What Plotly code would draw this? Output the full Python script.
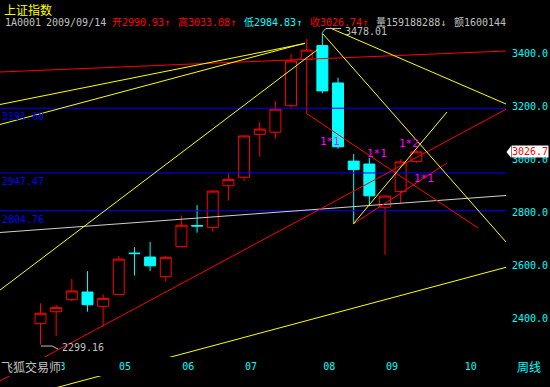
import plotly.graph_objects as go

# ---------------- data ----------------
weeks = list(range(25))
opens = [2378.6, 2423.7, 2469, 2498, 2444, 2489, 2645, 2630, 2556, 2669, 2749, 2742, 2899,
         2931, 3093, 3101, 3201, 3376, 3428, 3287, 2992, 2981, 2818, 2877, 2990.93]
highs = [2455, 2449, 2547, 2577, 2489, 2634, 2667, 2687, 2634, 2787, 2826, 2883, 2946,
         3088, 3140, 3220, 3396, 3453, 3478.01, 3307, 3019, 3004, 2862, 2999, 3033.08]
lows = [2299.16, 2332, 2464, 2424, 2367, 2487, 2560, 2578, 2537, 2667, 2722, 2726, 2843,
        2917, 3009, 3077, 3194, 3174, 3248, 3039, 2755, 2823, 2639, 2833, 2984.83]
closes = [2417.8, 2440, 2502, 2450, 2474, 2622, 2643, 2597, 2629, 2750, 2747, 2879, 2923,
          3087, 3113, 3188, 3370, 3411, 3257, 3046, 2960, 2861, 2860, 2989, 3026.74]

month_tick_pos = [1.22, 5.40, 9.43, 13.45, 18.44, 22.45, 27.48]
month_tick_text = ["03", "05", "06", "07", "08", "09", "10"]

price_ticks = [2400, 2600, 2800, 3000, 3200, 3400]

blue_levels = [3191.60, 2947.47, 2804.76]

# drawn trend lines: [x0, y0, x1, y1] in (week index, price)
red_trend = [[-2.586, 3328.3, 29.726, 3407.5],
             [-2.586, 2162.3, 29.726, 3187.5],
             [19.97, 2754.7, 25.96, 2984.9],
             [16.97, 3172.4, 27.94, 2739.6]]
yellow_trend = [[-2.586, 2505.3, 17.72, 3414.0],
                [-2.586, 3205.7, 16.89, 3435.8],
                [-2.586, 3130.2, 16.89, 3437.4],
                [18.49, 3494.3, 29.726, 3207.5],
                [18.04, 3471.7, 29.726, 2686.8],
                [19.97, 2754.7, 25.96, 3177.4],
                [-0.03, 2120.7, 29.726, 2591.3]]
grey_trend = [[-2.586, 2722.6, 29.726, 2862.3]]

gann_labels = ["1*1", "1*1", "1*2", "1*1"]
gann_x = [18.49, 21.49, 23.53, 24.52]
gann_y = [3066, 3019, 3057, 2928]

# ---------------- layout constants ----------------
W, H = 550, 387
PLOT_R = 506
X_RANGE = [-2.586, 29.726]
Y_RANGE = [2139.6, 3600.0]


def py2p(py):
    return Y_RANGE[1] - py * (Y_RANGE[1] - Y_RANGE[0]) / H


def px(x):
    return x / PLOT_R


def py(y):
    return 1 - y / H


RED = "#ff0000"
CYAN = "#00ffff"
YEL = "#ffff00"
GREY = "#c0c0c0"
BLUE = "#0000ff"
MAG = "#ff00ff"
MONO = "DejaVu Sans Mono, Noto Sans CJK SC"
CJK = "Noto Sans CJK SC"

fig = go.Figure()

# blue horizontal levels
for lv in blue_levels:
    fig.add_trace(go.Scatter(x=X_RANGE, y=[lv, lv], mode="lines",
                             line=dict(color=BLUE, width=1), hoverinfo="skip"))

for seg in grey_trend:
    fig.add_trace(go.Scatter(x=[seg[0], seg[2]], y=[seg[1], seg[3]], mode="lines",
                             line=dict(color="#d0d0d0", width=1), hoverinfo="skip"))
for seg in red_trend:
    fig.add_trace(go.Scatter(x=[seg[0], seg[2]], y=[seg[1], seg[3]], mode="lines",
                             line=dict(color=RED, width=1), hoverinfo="skip"))
for seg in yellow_trend:
    fig.add_trace(go.Scatter(x=[seg[0], seg[2]], y=[seg[1], seg[3]], mode="lines",
                             line=dict(color=YEL, width=1), hoverinfo="skip"))

# black band behind the date labels
b0, b1 = py2p(357), py2p(376)
fig.add_trace(go.Scatter(x=[X_RANGE[0], X_RANGE[1], X_RANGE[1], X_RANGE[0], X_RANGE[0]],
                         y=[b0, b0, b1, b1, b0], mode="lines", fill="toself",
                         fillcolor="black", line=dict(width=0, color="black"),
                         hoverinfo="skip"))

# candles
fig.add_trace(go.Candlestick(
    x=weeks, open=opens, high=highs, low=lows, close=closes,
    increasing=dict(line=dict(color=RED, width=1), fillcolor="rgba(0,0,0,0)"),
    decreasing=dict(line=dict(color=CYAN, width=1), fillcolor=CYAN),
    hoverinfo="skip"))

# connectors for extreme labels
hi_i = highs.index(max(highs))
lo_i = lows.index(min(lows))
fig.add_trace(go.Scatter(x=[hi_i, hi_i + 0.22, hi_i + 1.19],
                         y=[max(highs), py2p(28.5), py2p(28.5)], mode="lines",
                         line=dict(color=GREY, width=1), hoverinfo="skip"))
fig.add_trace(go.Scatter(x=[lo_i + 0.03, lo_i + 0.73, lo_i + 1.12],
                         y=[min(lows) - 5, min(lows) - 5, min(lows) - 16], mode="lines",
                         line=dict(color=GREY, width=1), hoverinfo="skip"))

ann = []
# title lines
ann.append(dict(x=px(2.5), y=py(0), xref="paper", yref="paper", text="上证指数",
                showarrow=False, xanchor="left", yanchor="top", borderpad=0,
                font=dict(family=CJK, size=12, color=YEL)))
segs = [(3.5, "1A0001", GREY), (44.9, "2009/09/14", GREY),
        (110.5, "开2990.93↑", RED), (177.1, "高3033.08↑", RED),
        (243.0, "低2984.83↑", CYAN), (308.7, "收3026.74↑", RED),
        (374.6, "量159188288↓", GREY), (452.5, "额1600144", GREY)]
for xx, t, c in segs:
    ann.append(dict(x=px(xx), y=py(22.5), xref="paper", yref="paper", text=t,
                    showarrow=False, xanchor="left", yanchor="middle", borderpad=0,
                    font=dict(family=MONO, size=10, color=c)))

# blue level labels
for lv in blue_levels:
    ann.append(dict(x=0, y=lv, xref="paper", yref="y", text="%.2f" % lv,
                    showarrow=False, xanchor="left", yanchor="top", yshift=-1,
                    font=dict(family=MONO, size=10, color=BLUE)))

# extreme labels
ann.append(dict(x=hi_i + 1.3, y=max(highs), xref="x", yref="y", text="%.2f" % max(highs),
                showarrow=False, xanchor="left", yanchor="middle", yshift=1,
                font=dict(family=MONO, size=10, color=GREY)))
ann.append(dict(x=lo_i + 1.22, y=min(lows), xref="x", yref="y", text="%.2f" % min(lows),
                showarrow=False, xanchor="left", yanchor="middle", yshift=-3,
                font=dict(family=MONO, size=10, color=GREY)))

# gann labels
for t, xx, yy in zip(gann_labels, gann_x, gann_y):
    ann.append(dict(x=xx, y=yy, xref="x", yref="y", text=t, showarrow=False,
                    xanchor="center", yanchor="middle",
                    font=dict(family=MONO, size=11, color=MAG)))

# bottom texts
ann.append(dict(x=0, y=py(366.5), xref="paper", yref="paper", text="飞狐交易师",
                showarrow=False, xanchor="left", yanchor="middle", bgcolor="black",
                borderpad=0, font=dict(family=CJK, size=12, color=GREY)))
ann.append(dict(x=px(515), y=py(366.5), xref="paper", yref="paper", text="周线",
                showarrow=False, xanchor="left", yanchor="middle",
                font=dict(family=CJK, size=12, color=CYAN)))

# last price marker
ann.append(dict(x=px(510.5), y=closes[-1], xref="paper", yref="y",
                text="%.1f" % closes[-1], showarrow=False, xanchor="left",
                yanchor="middle", bgcolor="white", borderpad=0,
                font=dict(family=MONO, size=10, color=RED)))

shapes = [dict(type="path", xref="paper", yref="y",
               path="M %f %f L %f %f L %f %f Z" % (px(506.5), closes[-1], px(511), closes[-1] + 22,
                                                   px(511), closes[-1] - 22),
               fillcolor="white", line=dict(width=0), layer="above")]

fig.update_layout(
    width=W, height=H, margin=dict(l=0, r=W - PLOT_R, t=0, b=0),
    paper_bgcolor="black", plot_bgcolor="black", showlegend=False,
    boxgap=0.3, boxgroupgap=0,
    annotations=ann, shapes=shapes,
    xaxis=dict(range=X_RANGE, showgrid=False, zeroline=False, showline=False,
               anchor="free", position=1 - 359 / H, tickmode="array",
               tickvals=month_tick_pos, ticktext=month_tick_text, ticks="",
               tickfont=dict(family=MONO, size=10, color=CYAN),
               rangeslider=dict(visible=False), fixedrange=True),
    yaxis=dict(range=Y_RANGE, side="right", showgrid=False, zeroline=False,
               showline=False, tickmode="array", tickvals=price_ticks,
               tickformat=".1f", ticks="outside", ticklen=3, tickcolor="black",
               tickfont=dict(family=MONO, size=10, color=CYAN), fixedrange=True),
)

fig.write_html("out.html")
